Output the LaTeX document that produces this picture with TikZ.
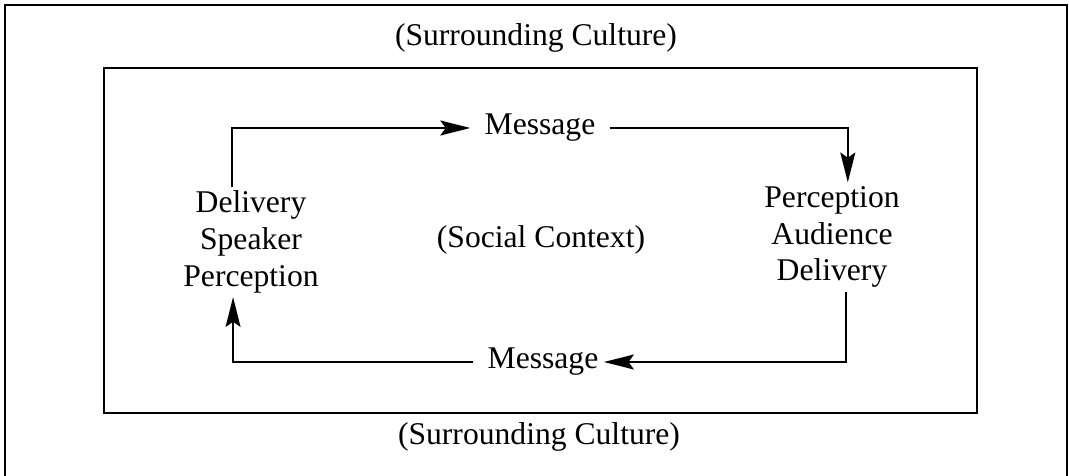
\documentclass[tikz,border=0pt]{standalone}
\usepackage{fontspec}
\setmainfont{Liberation Serif}
\usetikzlibrary{positioning}
\usetikzlibrary{arrows.meta}
\usetikzlibrary{calc}

\begin{document}
\begin{tikzpicture}[
    x=0.02cm, y=-0.02cm,
    label/.style = {font=\fontsize{18}{21}\selectfont, inner sep=2pt, align=center},
    msg/.style = {label, inner xsep=8pt},
    frame/.style = {line width=1.1pt},
    flow/.style = {line width=1.1pt, -{Stealth[length=17pt, width=8.5pt, inset=3pt]}},
    ]
    \useasboundingbox (0,0) rectangle (1069,476);

    % outer frame and inner box
    \draw[frame] (5,476) |- (1067,5) -- (1067,476);
    \draw[frame] (104,68) rectangle (977,413);

    \node[label] (ctop) at (536,38) {(Surrounding Culture)};
    \node[label] (cbot) at (539,437) {(Surrounding Culture)};
    \node[label] (social) at (541,240) {(Social Context)};

    \node[msg] (msgtop) at (540,128) {Message};
    \node[msg] (msgbot) at (543,362) {Message};

    \node[label] (spk) at (251,242) {Delivery\\Speaker\\Perception};
    \node[label] (aud) at (832,237) {Perception\\Audience\\Delivery};

    \draw[flow] ([xshift=-10.8pt]spk.north) |- (msgtop.west);
    \draw[flow] (msgtop.east) -| ([xshift=9pt]aud.north);
    \draw[flow] ([xshift=8pt]aud.south) |- ([xshift=-5pt]msgbot.east);
    \draw[flow] (msgbot.west) -| ([xshift=-10.2pt]spk.south);
\end{tikzpicture}
\end{document}
